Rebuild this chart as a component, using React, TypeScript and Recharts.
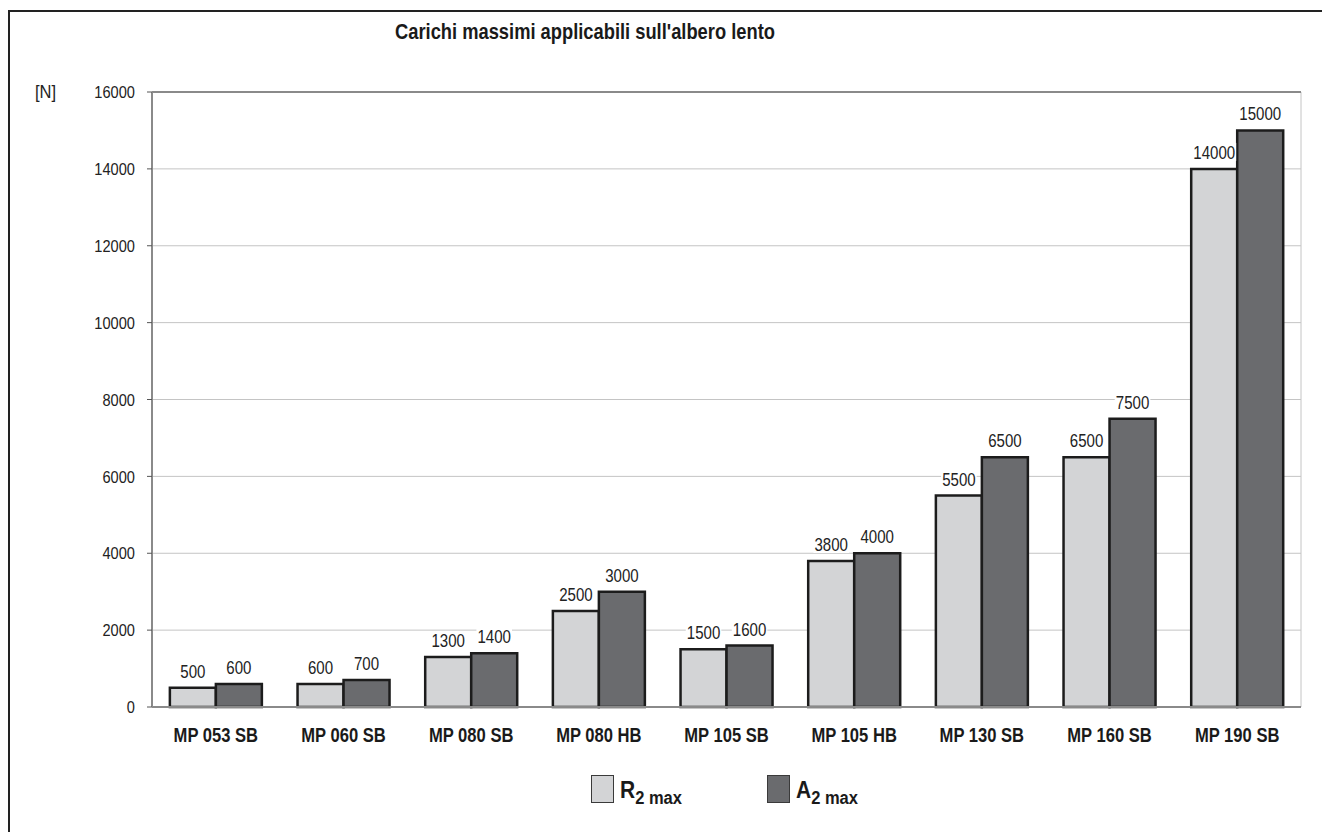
import { BarChart, Bar, XAxis, YAxis, CartesianGrid, LabelList, ReferenceLine } from 'recharts';

const models = ['MP 053 SB', 'MP 060 SB', 'MP 080 SB', 'MP 080 HB', 'MP 105 SB', 'MP 105 HB', 'MP 130 SB', 'MP 160 SB', 'MP 190 SB'];
const r2max = [500, 600, 1300, 2500, 1500, 3800, 5500, 6500, 14000];
const a2max = [600, 700, 1400, 3000, 1600, 4000, 6500, 7500, 15000];
const yTicks = [0, 2000, 4000, 6000, 8000, 10000, 12000, 14000, 16000];
const boundaryTicks = [0, 1, 2, 3, 4, 5, 6, 7, 8, 9];

const series = [
  { key: 'r2', label: 'R', sub: '2 max', fill: '#d3d4d6' },
  { key: 'a2', label: 'A', sub: '2 max', fill: '#6a6b6e' },
];

const data = models.map((name, i) => ({ name, r2: r2max[i], a2: a2max[i] }));

const FONT = '"Liberation Sans", Arial, sans-serif';
const SX = 0.86; // the source text is slightly condensed

function ValueLabel(props: any) {
  const { x, y, width, value } = props;
  const cx = x + width / 2;
  const text = String(value);
  const w = text.length * 8.4 + 2;
  return (
    <g>
      <rect x={cx - w / 2} y={y - 26} width={w} height={18} fill="#ffffff" />
      <text transform={`translate(${cx} ${y - 10}) scale(${SX} 1)`} textAnchor="middle" fontSize={17.5} fill="#222" fontFamily={FONT}>
        {text}
      </text>
    </g>
  );
}

function YTick(props: any) {
  const { x, y, payload } = props;
  return (
    <text transform={`translate(${x} ${y}) scale(${SX} 1)`} dy="0.36em" textAnchor="end" fontSize={17} fill="#222" fontFamily={FONT}>
      {payload.value}
    </text>
  );
}

function XTick(props: any) {
  const { x, y, payload } = props;
  return (
    <text transform={`translate(${x} ${y + 15}) scale(${SX} 1)`} textAnchor="middle" fontSize={19.3} fontWeight="bold" fill="#1a1a1a" fontFamily={FONT}>
      {payload.value}
    </text>
  );
}

export default function App() {
  return (
    <div style={{ position: 'absolute', left: 0, top: 0, width: 1322, height: 832, overflow: 'hidden', background: '#fff', fontFamily: FONT }}>
      <div style={{ position: 'absolute', left: 8, top: 10, width: 1400, height: 900, borderTop: '2px solid #222', borderLeft: '2px solid #222' }} />
      <div style={{ position: 'absolute', left: 0, width: 1170, top: 20, textAlign: 'center', fontSize: 21.3, fontWeight: 'bold', color: '#1a1a1a', transform: `scaleX(${SX})`, transformOrigin: '585px 0' }}>
        Carichi massimi applicabili sull'albero lento
      </div>
      <div style={{ position: 'absolute', left: 35, top: 81, fontSize: 19.2, color: '#222', transform: `scaleX(${SX})`, transformOrigin: '0 0' }}>[N]</div>
      <BarChart
        width={1322}
        height={832}
        data={data}
        margin={{ top: 92, right: 21, left: 92, bottom: 79 }}
        barCategoryGap="14%"
        barGap={0}
        style={{ position: 'absolute', left: 0, top: 0 }}
      >
        <CartesianGrid xAxisId="b" stroke="#c4c4c4" strokeWidth={1} />
        <XAxis
          xAxisId="b"
          type="number"
          domain={[0, 9]}
          ticks={boundaryTicks}
          height={6}
          tick={false}
          tickSize={5}
          axisLine={{ stroke: '#8a8a8a', strokeWidth: 2 }}
          tickLine={{ stroke: '#555', strokeWidth: 1 }}
          allowDataOverflow
        />
        <XAxis
          xAxisId="cat"
          dataKey="name"
          height={40}
          axisLine={false}
          tickLine={false}
          tickSize={0}
          tickMargin={14}
          interval={0}
          tick={<XTick />}
        />
        <YAxis
          domain={[0, 16000]}
          ticks={yTicks}
          width={60}
          tickSize={5}
          tickMargin={12}
          axisLine={{ stroke: '#8a8a8a', strokeWidth: 2 }}
          tickLine={{ stroke: '#555', strokeWidth: 1 }}
          tick={<YTick />}
        />
        <ReferenceLine y={16000} xAxisId="b" stroke="#8a8a8a" strokeWidth={2} />
        <ReferenceLine x={9} xAxisId="b" stroke="#8a8a8a" strokeWidth={2} />
        {series.map((s) => (
          <Bar key={s.key} xAxisId="cat" dataKey={s.key} fill={s.fill} stroke="#1c1c1c" strokeWidth={2.5} isAnimationActive={false}>
            <LabelList dataKey={s.key} content={<ValueLabel />} />
          </Bar>
        ))}
      </BarChart>
      <div style={{ position: 'absolute', left: 591, top: 775, display: 'flex' }}>
        {series.map((s, i) => (
          <div key={s.key} style={{ display: 'flex', alignItems: 'flex-end', width: i === 0 ? 176 : 130 }}>
            <div style={{ width: 21, height: 26, background: s.fill, border: '1.5px solid #3a3a3a', flex: 'none' }} />
            <span style={{ marginLeft: 6, fontSize: 24.4, fontWeight: 'bold', color: '#1a1a1a', lineHeight: '22px', whiteSpace: 'nowrap', transform: `scaleX(${SX})`, transformOrigin: '0 0' }}>
              {s.label}
              <span style={{ fontSize: 19.2, position: 'relative', top: 6 }}>{s.sub}</span>
            </span>
          </div>
        ))}
      </div>
    </div>
  );
}
